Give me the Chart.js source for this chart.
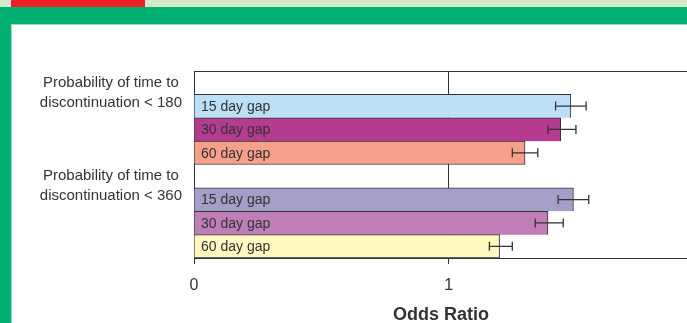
<!DOCTYPE html>
<html>
<head>
<meta charset="utf-8">
<script src="https://cdn.jsdelivr.net/npm/chart.js@4/dist/chart.umd.min.js"></script>
<style>
  html, body { margin: 0; padding: 0; }
  body { width: 687px; height: 323px; overflow: hidden; position: relative; background: #00b073; }
  .strip { position: absolute; left: 0; top: 0; width: 687px; height: 7px; background: #d4e9cc; }
  .tab { position: absolute; left: 11px; top: 0; width: 134px; height: 7px; background: #ee1f26; }
  .panel { position: absolute; left: 11px; top: 24px; width: 676px; height: 299px; background: #ffffff;
           border-left: 1px solid #9fdcbf; border-top: 1px solid #9fdcbf; }
  #chart { position: absolute; left: 12px; top: 25px; }
</style>
</head>
<body>
<div class="strip"></div>
<div class="tab"></div>
<div class="panel"></div>
<canvas id="chart" width="676" height="305"></canvas>
<script>
// Outcome groups and gap definitions
const groupLabels = [
  ['Probability of time to', 'discontinuation < 180'],
  ['Probability of time to', 'discontinuation < 360']
];
const gapLabels = ['15 day gap', '30 day gap', '60 day gap'];

// Odds ratios with confidence limits, one entry per gap definition
const odds180  = [1.48, 1.44, 1.30];
const lower180 = [1.42, 1.39, 1.25];
const upper180 = [1.54, 1.50, 1.35];

const odds360  = [1.49, 1.39, 1.20];
const lower360 = [1.43, 1.34, 1.16];
const upper360 = [1.55, 1.45, 1.25];

const xTicks = [0, 1];

const colors180 = ['#bcdff5', '#b53b90', '#f6a08a'];
const colors360 = ['#a39fc8', '#c07eb8', '#fff8c0'];

// Each group gets a blank leading row that carries the group label, then one row per gap
const rowLabels = [], rowValues = [], rowLow = [], rowHigh = [], rowNames = [], rowColors = [], rowLast = [];
[[odds180, lower180, upper180, colors180], [odds360, lower360, upper360, colors360]].forEach(([v, lo, hi, col], g) => {
  rowLabels.push(groupLabels[g]); rowValues.push(null); rowLow.push(null); rowHigh.push(null);
  rowNames.push(''); rowColors.push('transparent'); rowLast.push(false);
  v.forEach((val, i) => {
    rowLabels.push(''); rowValues.push(val); rowLow.push(lo[i]); rowHigh.push(hi[i]);
    rowNames.push(gapLabels[i]); rowColors.push(col[i]); rowLast.push(i === v.length - 1);
  });
});

const ink = '#333333';

const extras = {
  id: 'extras',
  beforeDatasetsDraw(chart) {
    // top edge of the plot frame
    const { ctx, chartArea } = chart;
    ctx.save();
    ctx.strokeStyle = ink;
    ctx.lineWidth = 1;
    ctx.beginPath();
    ctx.moveTo(chartArea.left, Math.round(chartArea.top) + 0.5);
    ctx.lineTo(chartArea.right, Math.round(chartArea.top) + 0.5);
    ctx.stroke();
    ctx.restore();
  },
  afterDatasetsDraw(chart) {
    const { ctx, chartArea, scales } = chart;
    const meta = chart.getDatasetMeta(0);
    ctx.save();
    // labels inside the bars
    ctx.font = '14px "Liberation Sans", Arial, sans-serif';
    ctx.fillStyle = ink;
    ctx.textAlign = 'left';
    ctx.textBaseline = 'middle';
    meta.data.forEach((bar, i) => {
      if (rowValues[i] === null) return;
      ctx.fillText(rowNames[i], chartArea.left + 7, bar.y + 1);
    });
    // confidence interval whiskers
    ctx.strokeStyle = ink;
    ctx.lineWidth = 1.3;
    meta.data.forEach((bar, i) => {
      if (rowValues[i] === null) return;
      const x1 = scales.x.getPixelForValue(rowLow[i]);
      const x2 = scales.x.getPixelForValue(rowHigh[i]);
      const y = bar.y;
      ctx.beginPath();
      ctx.moveTo(x1, y); ctx.lineTo(x2, y);
      ctx.moveTo(x1, y - 4.5); ctx.lineTo(x1, y + 4.5);
      ctx.moveTo(x2, y - 4.5); ctx.lineTo(x2, y + 4.5);
      ctx.stroke();
    });
    ctx.restore();
  }
};

new Chart(document.getElementById('chart'), {
  type: 'bar',
  data: {
    labels: rowLabels,
    datasets: [{
      data: rowValues,
      backgroundColor: rowColors,
      borderColor: ink,
      borderWidth: (c) => ({ top: 1, right: 1, bottom: rowLast[c.dataIndex] ? 1 : 0, left: 0 }),
      borderSkipped: false,
      categoryPercentage: 1,
      barPercentage: 1
    }]
  },
  options: {
    indexAxis: 'y',
    responsive: false,
    animation: false,
    devicePixelRatio: 1,
    layout: { padding: { top: 46, right: 0, bottom: 0, left: 0 } },
    plugins: { legend: { display: false }, tooltip: { enabled: false } },
    scales: {
      x: {
        type: 'linear',
        min: 0,
        max: 1.94,
        afterBuildTicks: (s) => { s.ticks = xTicks.map(v => ({ value: v })); },
        afterFit: (s) => { s.height = 72; },
        grid: { color: ink, lineWidth: 1, tickLength: 6, tickColor: ink, drawOnChartArea: true },
        border: { display: true, color: ink, width: 1 },
        ticks: {
          color: ink,
          padding: 12,
          font: { family: '"Liberation Sans", Arial, sans-serif', size: 16 },
          callback: (v) => String(v)
        },
        title: {
          display: true,
          text: 'Odds Ratio',
          color: ink,
          padding: { top: 4, bottom: 4 },
          font: { family: '"Liberation Sans", Arial, sans-serif', size: 18, weight: 'bold' }
        }
      },
      y: {
        type: 'category',
        afterFit: (s) => { s.width = 182; },
        grid: { display: false, drawTicks: false },
        border: { display: true, color: ink, width: 1 },
        ticks: {
          autoSkip: false,
          crossAlign: 'center',
          color: ink,
          padding: 12,
          labelOffset: 10,
          font: { family: '"Liberation Sans", Arial, sans-serif', size: 15, lineHeight: 1.33 }
        }
      }
    }
  },
  plugins: [extras]
});
</script>
</body>
</html>
